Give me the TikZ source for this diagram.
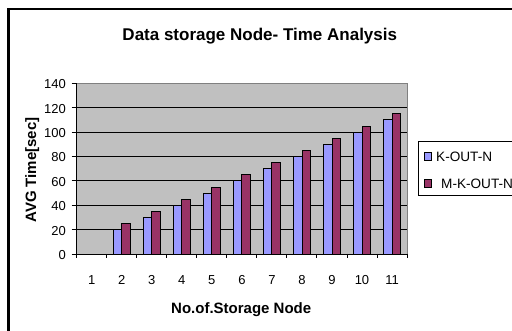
\documentclass[tikz,border=0pt]{standalone}
\usepackage{fontspec}
\setmainfont{Liberation Sans}
\definecolor{kblue}{HTML}{9999FF}
\definecolor{mred}{HTML}{993366}
\definecolor{plotgray}{HTML}{C0C0C0}
\definecolor{bordergray}{HTML}{808080}
\tikzset{
  ticklabel/.style={inner sep=0pt,font=\fontsize{13}{15}\selectfont},
  axistitle/.style={inner sep=0pt,font=\fontsize{15}{17}\bfseries\selectfont},
  legendtext/.style={inner sep=0pt,anchor=base west,font=\fontsize{13.6}{15}\selectfont},
  gridline/.style={line width=0.9pt,black},
  barbox/.style={draw=black,line width=0.8pt},
}
\begin{document}
\begin{tikzpicture}[x=1pt,y=-1pt]
\useasboundingbox (0,0) rectangle (512,331);
\clip (0,0) rectangle (512,331);
\fill[white] (0,0) rectangle (512,331);
% outer chart frame (cut at right and bottom)
\draw[line width=2.4pt] (8.6,9.3) rectangle (540,350);
% title
\node[inner sep=0pt,anchor=base,font=\fontsize{17}{19}\bfseries\selectfont] (title) at (259.8,41) {Data storage Node- Time Analysis};
% plot area
\fill[plotgray] (76.7,83.3) rectangle (407,254);
\foreach \v in {20,40,...,120}
  \draw[gridline] (76.7,{254-1.2193*\v}) -- (407,{254-1.2193*\v});
\draw[bordergray,line width=0.8pt] (76.7,83.3) -- (407,83.3) -- (407,254);
% bars
\foreach \i/\a/\b in {2/20/25,3/30/35,4/40/45,5/50/55,6/60/65,7/70/75,8/80/85,9/90/95,10/100/105,11/110/115}{
  \pgfmathsetmacro{\xo}{76.7+(\i-1)*30.03}
  \draw[barbox,fill=kblue] (\xo+6.43,254) rectangle (\xo+15,{254-1.2193*\a});
  \draw[barbox,fill=mred] (\xo+15,254) rectangle (\xo+23.6,{254-1.2193*\b});
}
% axes
\draw[line width=0.9pt] (76.7,83.3) -- (76.7,254) -- (407,254);
\foreach \v in {0,20,...,140}{
  \draw[line width=0.9pt] (71.7,{254-1.2193*\v}) -- (76.7,{254-1.2193*\v});
  \node[ticklabel,anchor=east] (yl\v) at (66,{255-1.2193*\v}) {\v};
}
\foreach \i in {0,...,11}
  \draw[line width=0.9pt] ({76.7+\i*30.03},254) -- ({76.7+\i*30.03},258.5);
\foreach \i in {1,...,11}
  \node[ticklabel,anchor=base] (xl\i) at ({76.7+(\i-0.5)*30.03},285) {\i};
% axis titles
\node[axistitle,anchor=base] (xtitle) at (241.2,314) {No.of.Storage Node};
\node[axistitle,anchor=base,rotate=90] (ytitle) at (36,170) {AVG Time[sec]};
% legend
\draw[line width=0.8pt] (418.3,141.7) rectangle (560,195.7);
\draw[barbox,fill=kblue] (424.3,152.7) rectangle (431.7,160.7);
\node[legendtext] (lk) at (436,161.3) {K-OUT-N};
\draw[barbox,fill=mred] (424.3,179.3) rectangle (431.7,187.3);
\node[legendtext] (lm) at (441,189) {M-K-OUT-N};
\end{tikzpicture}
\end{document}
